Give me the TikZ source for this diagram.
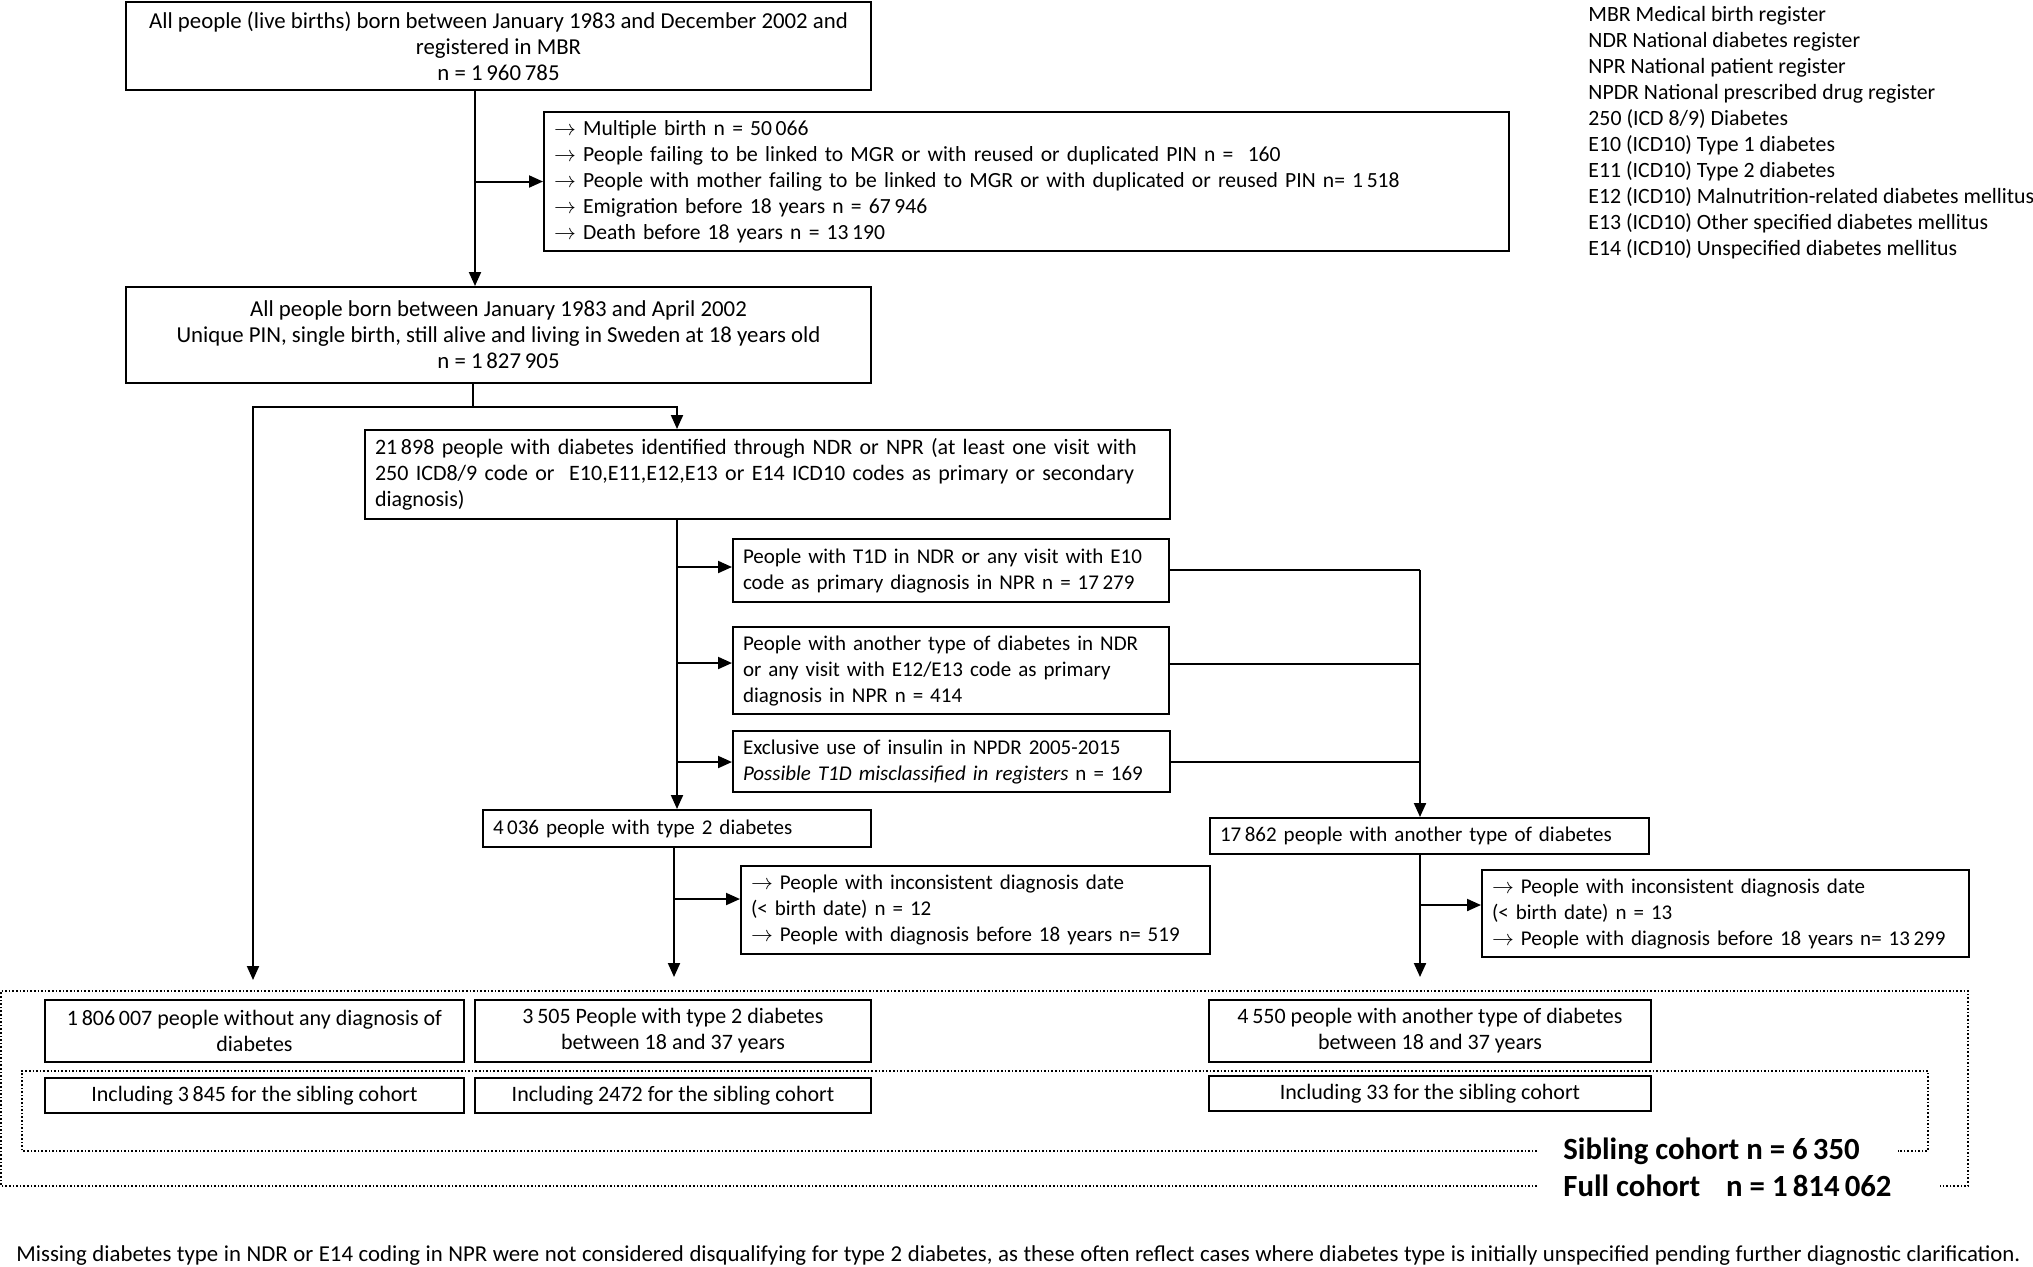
\documentclass[tikz,border=0pt]{standalone}
\usepackage{fontspec}
\setmainfont{Carlito}
\usetikzlibrary{arrows.meta}

\tikzset{
  box/.style = {draw, line width=1pt, inner xsep=5pt, inner ysep=1pt,
    font=\fontsize{11}{13}\selectfont},
  lbox/.style = {box, align=left},
  cbox/.style = {box, align=center},
  big/.style = {font=\fontsize{11.4}{13}\selectfont},
  small/.style = {font=\fontsize{10.5}{13}\selectfont},
  frame/.style = {densely dotted, line width=0.8pt},
  link/.style = {line width=1pt},
  total/.style = {anchor=west, inner xsep=0pt, font=\bfseries\fontsize{15.4}{17}\selectfont},
}

\begin{document}
\begin{tikzpicture}[x=0.5pt, y=-0.5pt, >={Triangle[length=7pt,width=6pt]}]
	\useasboundingbox (0,0) rectangle (2033,1266);
	% main column
	\node[cbox, big, minimum width=372.5pt, minimum height=44pt] (mbr) at (498.5,46) {All people (live births) born between January 1983 and December 2002 and\\registered in MBR\\n = 1\,960\,785};
	\node[lbox, font=\fontsize{10.8}{13}\selectfont, text width=472.5pt, minimum height=69.5pt] (excl1) at (1026.5,181.5) {$\rightarrow$ Multiple birth n = 50\,066\\$\rightarrow$ People failing to be linked to MGR or with reused or duplicated PIN n =\ \ 160\\$\rightarrow$ People with mother failing to be linked to MGR or with duplicated or reused PIN n= 1\,518\\$\rightarrow$ Emigration before 18 years n = 67\,946\\$\rightarrow$ Death before 18 years n = 13\,190};
	\node[cbox, big, minimum width=372.5pt, minimum height=48pt] (base) at (498.5,335) {All people born between January 1983 and April 2002\\Unique PIN, single birth, still alive and living in Sweden at 18 years old\\n = 1\,827\,905};
	\node[lbox, text width=392.5pt, minimum height=44.5pt] (diab) at (767.5,474.5) {21\,898 people with diabetes identified through NDR or NPR (at least one visit with\\250 ICD8/9 code or\ \ E10,E11,E12,E13 or E14 ICD10 codes as primary or secondary\\diagnosis)};
	\node[lbox, small, text width=208pt, minimum height=31.5pt] (t1d) at (951,570.5) {People with T1D in NDR or any visit with E10\\code as primary diagnosis in NPR n = 17\,279};
	\node[lbox, small, text width=208pt, minimum height=43.5pt] (other) at (951,670.5) {People with another type of diabetes in NDR\\or any visit with E12/E13 code as primary\\diagnosis in NPR n = 414};
	\node[lbox, small, text width=208.5pt, minimum height=30.5pt] (insulin) at (951.5,761.5) {Exclusive use of insulin in NPDR 2005-2015\\\textit{Possible T1D misclassified in registers} n = 169};
	\node[lbox, small, text width=184pt, minimum height=18.5pt] (t2d) at (677,828.5) {4\,036 people with type 2 diabetes};
	\node[lbox, small, text width=224.5pt, minimum height=44pt] (excl2) at (975.5,910) {$\rightarrow$ People with inconsistent diagnosis date\\(< birth date) n = 12\\$\rightarrow$ People with diagnosis before 18 years n= 519};
	\node[lbox, small, text width=209.5pt, minimum height=18pt] (oth) at (1429.5,836) {17\,862 people with another type of diabetes};
	\node[lbox, small, text width=233.5pt, minimum height=43.5pt] (excl3) at (1725.5,913.5) {$\rightarrow$ People with inconsistent diagnosis date\\(< birth date) n = 13\\$\rightarrow$ People with diagnosis before 18 years n= 13\,299};
	% final groups
	\node[cbox, minimum width=209.5pt, minimum height=31pt] (nodiab) at (254.5,1031) {1\,806\,007 people without any diagnosis of\\diabetes};
	\node[cbox, minimum width=198pt, minimum height=31pt] (t2dfin) at (673,1031) {3\,505 People with type 2 diabetes\\between 18 and 37 years};
	\node[cbox, minimum width=221pt, minimum height=31pt] (othfin) at (1430,1031) {4\,550 people with another type of diabetes\\between 18 and 37 years};
	\node[cbox, minimum width=209.5pt, minimum height=17.5pt] (nodiabsib) at (254.5,1095.5) {Including 3\,845 for the sibling cohort};
	\node[cbox, minimum width=198pt, minimum height=17.5pt] (t2dsib) at (673,1095.5) {Including 2472 for the sibling cohort};
	\node[cbox, minimum width=221pt, minimum height=17.5pt] (othsib) at (1430,1093.5) {Including 33 for the sibling cohort};
	\node[total] (sibn) at (1563,1151) {Sibling cohort n = 6\,350};
	\node[total] (fulln) at (1563,1186) {Full cohort\hspace{13pt}n = 1\,814\,062};
	% legend and note
	\node[anchor=west, align=left, inner sep=0pt, font=\fontsize{10.9}{13}\selectfont] (legend) at (1588,132.5) {MBR Medical birth register\\NDR National diabetes register\\NPR National patient register\\NPDR National prescribed drug register\\250 (ICD 8/9) Diabetes\\E10 (ICD10) Type 1 diabetes\\E11 (ICD10) Type 2 diabetes\\E12 (ICD10) Malnutrition-related diabetes mellitus\\E13 (ICD10) Other specified diabetes mellitus\\E14 (ICD10) Unspecified diabetes mellitus};
	\node[anchor=west, inner sep=0pt, font=\fontsize{11.4}{13}\selectfont] (note) at (16,1256) {\makebox[1002pt][s]{Missing diabetes type in NDR or E14 coding in NPR were not considered disqualifying for type 2 diabetes, as these often reflect cases where diabetes type is initially unspecified pending further diagnostic clarification.}};
	% spine points
	\coordinate (b1) at (475,181.5);
	\coordinate (j1) at (473,407);
	\coordinate (e1) at (253,980);
	\coordinate (b2) at (677,567);
	\coordinate (b3) at (677,663);
	\coordinate (b4) at (677,762);
	\coordinate (m1) at (1420,570);
	\coordinate (m2) at (1420,664);
	\coordinate (m3) at (1420,762);
	\coordinate (b5) at (674,899);
	\coordinate (e2) at (674,977);
	\coordinate (b6) at (1420,905);
	\coordinate (e3) at (1420,977);
	% connectors
	\draw[->, link] (mbr.south -| b1) -- (base.north -| b1);
	\draw[->, link] (b1) -- (excl1.west);
	\draw[link] (base.south -| j1) -- (j1);
	\draw[->, link] (j1) -| (e1);
	\draw[->, link] (j1) -| (diab.north -| b2);
	\draw[->, link] (diab.south -| b2) -- (t2d.north -| b2);
	\draw[->, link] (b2) -- (b2 -| t1d.west);
	\draw[->, link] (b3) -- (b3 -| other.west);
	\draw[->, link] (b4) -- (b4 -| insulin.west);
	\draw[link] (m1 -| t1d.east) -- (m1);
	\draw[link] (m2 -| other.east) -- (m2);
	\draw[link] (m3 -| insulin.east) -- (m3);
	\draw[->, link] (m1) -- (oth.north -| m1);
	\draw[->, link] (t2d.south -| e2) -- (e2);
	\draw[->, link] (b5) -- (b5 -| excl2.west);
	\draw[->, link] (oth.south -| e3) -- (e3);
	\draw[->, link] (b6) -- (b6 -| excl3.west);
	% cohort frames
	\draw[frame] ([xshift=-13pt]sibn.west) -| (22,1071) -| (1928,1151) -- ([xshift=19pt]sibn.east);
	\draw[frame] ([xshift=-13pt]fulln.west) -| (1,991) -| (1968,1186) -- ([xshift=24pt]fulln.east);
\end{tikzpicture}
\end{document}
